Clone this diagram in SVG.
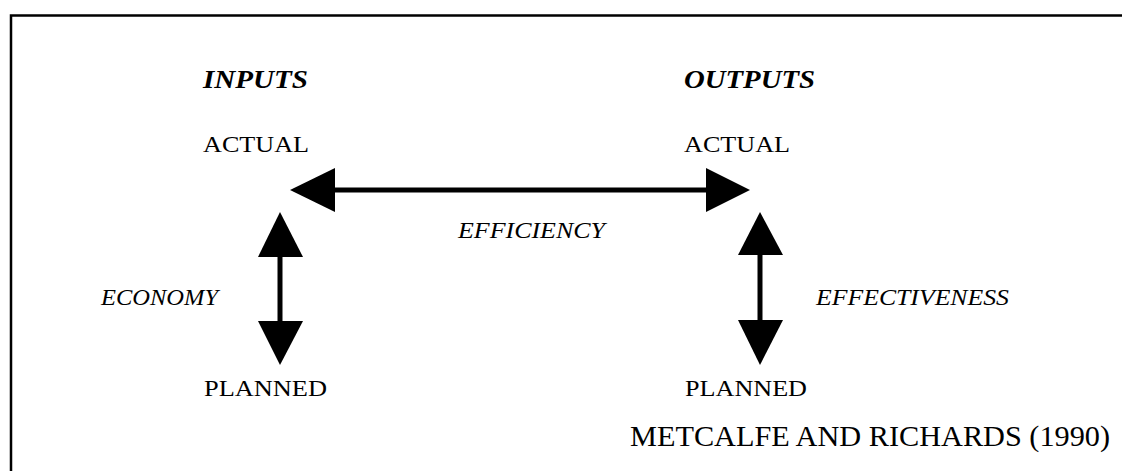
<svg xmlns="http://www.w3.org/2000/svg" width="1122" height="471" viewBox="0 0 1122 471">
<style>
text{font-family:"Liberation Serif","Times New Roman",serif;fill:#000}
.h{font-size:25px;font-weight:bold;font-style:italic}
.n{font-size:24px}
.i{font-size:24px;font-style:italic}
.src{font-size:30px}
.frame{stroke:#000;stroke-width:2.5;fill:none}
.shaft{stroke:#000;stroke-width:5;fill:none}
.head{fill:#000}
</style>
<g id="frame"><path class="frame" d="M11,471 V15.5 H1122"/></g>
<g id="inputs"><text class="h" x="203" y="88" textLength="105" lengthAdjust="spacingAndGlyphs">INPUTS</text></g>
<g id="outputs"><text class="h" x="684" y="88" textLength="131" lengthAdjust="spacingAndGlyphs">OUTPUTS</text></g>
<g id="actual-in"><text class="n" x="203" y="152" textLength="106" lengthAdjust="spacingAndGlyphs">ACTUAL</text></g>
<g id="actual-out"><text class="n" x="684" y="152" textLength="106" lengthAdjust="spacingAndGlyphs">ACTUAL</text></g>
<g id="planned-in"><text class="n" x="204" y="396" textLength="123" lengthAdjust="spacingAndGlyphs">PLANNED</text></g>
<g id="planned-out"><text class="n" x="685" y="396" textLength="122" lengthAdjust="spacingAndGlyphs">PLANNED</text></g>
<g id="efficiency"><text class="i" x="458" y="238" textLength="147" lengthAdjust="spacingAndGlyphs">EFFICIENCY</text></g>
<g id="economy"><text class="i" x="101" y="305" textLength="117" lengthAdjust="spacingAndGlyphs">ECONOMY</text></g>
<g id="effectiveness"><text class="i" x="816" y="305" textLength="193" lengthAdjust="spacingAndGlyphs">EFFECTIVENESS</text></g>
<g id="source"><text class="src" x="630" y="446" textLength="480" lengthAdjust="spacingAndGlyphs">METCALFE AND RICHARDS (1990)</text></g>
<g id="connectors">
<line class="shaft" x1="330" y1="190" x2="710" y2="190"/>
<polygon class="head" points="290,190 335,168 335,212"/>
<polygon class="head" points="750,190 706,168 706,212"/>
<line class="shaft" x1="280" y1="250" x2="280" y2="325"/>
<polygon class="head" points="280,212 258,257 303,257"/>
<polygon class="head" points="280,365 258,321 303,321"/>
<line class="shaft" x1="760" y1="250" x2="760" y2="325"/>
<polygon class="head" points="760,212 738,255 783,255"/>
<polygon class="head" points="760,365 738,320 783,320"/>
</g>
</svg>
